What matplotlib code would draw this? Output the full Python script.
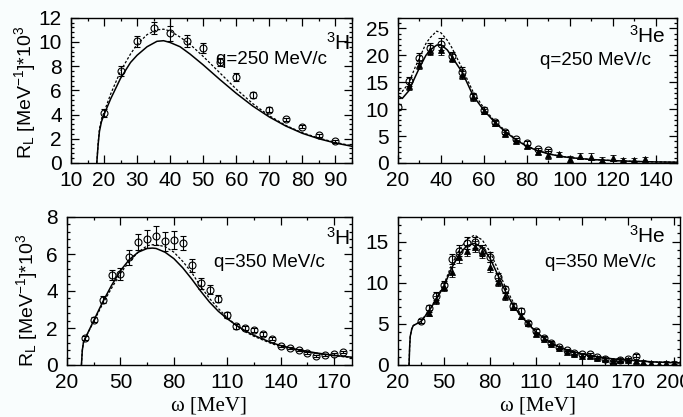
import matplotlib
matplotlib.use("Agg")
import matplotlib.pyplot as plt
from matplotlib.ticker import MultipleLocator

plt.rcParams["font.family"] = ["Liberation Sans", "DejaVu Sans"]
plt.rcParams["mathtext.fontset"] = "custom"
plt.rcParams["mathtext.rm"] = "Liberation Sans"
plt.rcParams["mathtext.it"] = "Liberation Sans"

BG = "#f9fdfd"

# ---- 3H, q=250 MeV/c ----
h250_w = [17.8, 18.2, 18.6, 19.2, 20, 22, 25, 28, 30, 33, 36, 38, 40, 43, 46, 50, 55, 60, 65, 70, 75, 80, 85, 90, 95]
h250_solid = [0.0, 1.5, 2.6, 3.4, 4.0, 5.3, 7.0, 8.3, 8.9, 9.6, 10.05, 10.1, 9.95, 9.6, 9.0, 8.1, 6.9, 5.75, 4.7, 3.8, 3.05, 2.45, 2.0, 1.65, 1.38]
h250_dot = [0.0, 1.6, 2.8, 3.6, 4.2, 5.7, 7.6, 9.0, 9.8, 10.6, 11.0, 11.05, 10.9, 10.4, 9.8, 8.8, 7.45, 6.1, 4.9, 3.9, 3.1, 2.5, 2.05, 1.7, 1.42]
h250_pw = [20, 25, 30, 35, 40, 45, 50, 55, 60, 65, 70, 75, 80, 85, 90]
h250_pv = [4.13, 7.6, 10.05, 11.15, 10.7, 10.05, 9.5, 8.35, 7.1, 5.6, 4.4, 3.6, 3.0, 2.3, 1.8]
h250_pe = [0.3, 0.4, 0.45, 0.5, 0.6, 0.5, 0.45, 0.35, 0.35, 0.25, 0.2, 0.15, 0.15, 0.12, 0.12]

# ---- 3He, q=250 MeV/c ----
he250_w = [20, 22, 25, 28, 30, 33, 35, 38, 40, 43, 45, 50, 55, 60, 65, 70, 75, 80, 85, 90, 95, 100, 110, 120, 130, 140, 150]
he250_solid = [12.5, 12.0, 13.4, 16.0, 17.7, 20.0, 21.0, 21.9, 22.0, 21.0, 19.8, 16.8, 12.5, 9.8, 7.6, 5.8, 4.3, 3.1, 2.3, 1.7, 1.3, 1.0, 0.65, 0.45, 0.3, 0.2, 0.15]
he250_dot = [13.7, 13.3, 14.8, 17.8, 19.5, 22.2, 23.3, 24.5, 24.2, 22.8, 21.5, 17.5, 13.2, 10.2, 7.8, 6.0, 4.4, 3.2, 2.35, 1.75, 1.3, 1.0, 0.65, 0.45, 0.3, 0.2, 0.15]
he250_cw = [20, 25, 30, 35, 40, 45, 50, 55, 60, 65, 70, 75, 80, 85, 90]
he250_cv = [10.4, 15.2, 19.5, 21.3, 22.1, 19.8, 17.0, 12.5, 9.9, 7.6, 5.8, 4.4, 3.7, 2.6, 2.4]
he250_ce = [0.5, 0.8, 0.9, 1.0, 1.1, 0.9, 0.8, 0.6, 0.5, 0.4, 0.35, 0.3, 0.3, 0.25, 0.25]
he250_tw = [25, 30, 35, 40, 45, 50, 55, 60, 65, 70, 75, 80, 85, 90, 95, 100, 105, 110, 115, 120, 125, 130, 135]
he250_tv = [14.3, 18.3, 21.0, 21.0, 19.5, 16.4, 12.2, 9.6, 7.4, 5.4, 4.0, 3.1, 2.1, 1.5, 1.7, 0.7, 1.3, 1.2, 0.6, 0.9, 0.5, 0.6, 0.7]
he250_te = [0.7, 0.8, 0.9, 0.9, 0.8, 0.7, 0.6, 0.5, 0.45, 0.4, 0.35, 0.3, 0.4, 0.8, 0.3, 0.6, 0.6, 0.6, 0.5, 0.6, 0.4, 0.4, 0.4]

# ---- 3H, q=350 MeV/c ----
h350_w = [28.1, 28.6, 29.2, 30, 35, 40, 45, 50, 55, 60, 65, 68, 70, 75, 80, 85, 90, 95, 100, 105, 110, 115, 120, 125, 130, 135, 140, 150, 160, 170, 180]
h350_solid = [0.0, 0.8, 1.2, 1.4, 2.4, 3.4, 4.3, 5.1, 5.7, 6.1, 6.3, 6.32, 6.3, 6.1, 5.75, 5.25, 4.65, 4.0, 3.4, 2.9, 2.5, 2.15, 1.85, 1.6, 1.4, 1.2, 1.05, 0.82, 0.65, 0.52, 0.42]
h350_dot = [0.0, 0.8, 1.2, 1.4, 2.35, 3.3, 4.15, 4.95, 5.6, 6.1, 6.45, 6.5, 6.5, 6.4, 6.1, 5.6, 5.0, 4.25, 3.6, 3.05, 2.55, 2.15, 1.8, 1.55, 1.35, 1.15, 1.0, 0.78, 0.62, 0.5, 0.4]
h350_pw = [30, 35, 40, 45, 50, 55, 60, 65, 70, 75, 80, 85, 90, 95, 100, 105, 110, 115, 120, 125, 130, 135, 140, 145, 150, 155, 160, 165, 170, 175]
h350_pv = [1.47, 2.45, 3.54, 4.86, 4.92, 5.83, 6.64, 6.82, 6.99, 6.68, 6.77, 6.59, 5.39, 4.41, 4.08, 3.58, 2.69, 2.09, 2.0, 1.9, 1.69, 1.43, 1.02, 0.93, 0.8, 0.65, 0.47, 0.54, 0.6, 0.7]
h350_pe = [0.1, 0.15, 0.2, 0.25, 0.3, 0.4, 0.45, 0.5, 0.5, 0.5, 0.5, 0.4, 0.35, 0.3, 0.25, 0.2, 0.15, 0.12, 0.12, 0.1, 0.1, 0.1, 0.07, 0.07, 0.06, 0.06, 0.06, 0.06, 0.06, 0.06]

# ---- 3He, q=350 MeV/c ----
he350_w = [27.2, 27.6, 28, 29, 30, 35, 40, 45, 50, 55, 60, 65, 70, 75, 80, 85, 90, 95, 100, 105, 110, 115, 120, 125, 130, 140, 150, 160, 170, 180, 190, 205]
he350_solid = [0.0, 2.2, 3.5, 4.4, 4.8, 5.3, 6.5, 8.0, 9.6, 11.8, 13.5, 14.5, 14.8, 14.3, 13.0, 11.0, 9.0, 7.3, 6.0, 5.0, 4.0, 3.3, 2.7, 2.2, 1.85, 1.35, 1.0, 0.75, 0.6, 0.45, 0.35, 0.25]
he350_dot = [0.0, 2.2, 3.5, 4.4, 4.8, 5.3, 6.6, 8.1, 9.8, 12.2, 14.0, 15.3, 15.8, 15.2, 13.8, 11.7, 9.5, 7.7, 6.2, 5.1, 4.05, 3.3, 2.7, 2.2, 1.85, 1.35, 1.0, 0.75, 0.6, 0.45, 0.35, 0.25]
he350_cw = [35, 40, 45, 50, 55, 60, 65, 70, 75, 80, 85, 90, 95, 100, 105, 110, 115, 120, 125, 130, 135, 140, 145, 150, 155, 160, 165, 170, 175]
he350_cv = [5.35, 6.9, 8.35, 9.67, 12.9, 13.9, 14.85, 14.9, 13.9, 13.1, 10.7, 9.2, 7.2, 6.6, 5.1, 4.1, 3.3, 2.7, 2.2, 1.8, 1.45, 1.3, 1.3, 0.95, 0.75, 0.35, 0.6, 0.7, 1.15]
he350_ce = [0.3, 0.4, 0.5, 0.5, 0.6, 0.7, 0.7, 0.7, 0.7, 0.6, 0.5, 0.45, 0.4, 0.35, 0.3, 0.25, 0.2, 0.2, 0.15, 0.15, 0.15, 0.15, 0.15, 0.15, 0.15, 0.15, 0.15, 0.15, 0.2]
he350_tw = [40, 45, 50, 55, 60, 65, 70, 75, 80, 85, 90, 95, 100, 105, 110, 115, 120, 125, 130, 135, 140, 145, 150, 155, 160, 165, 170, 175, 180, 185, 190, 195, 200, 205]
he350_tv = [6.3, 7.9, 9.5, 11.3, 13.1, 13.9, 14.4, 13.7, 11.9, 10.1, 8.4, 7.1, 6.0, 5.1, 3.8, 3.2, 2.6, 2.1, 1.6, 1.35, 1.15, 1.05, 0.85, 0.7, 0.45, 0.6, 0.6, 0.45, 0.35, 0.2, 0.15, 0.25, 0.3, 0.3]
he350_te = [0.4, 0.5, 0.5, 0.6, 0.7, 0.7, 0.7, 0.7, 0.6, 0.5, 0.45, 0.4, 0.35, 0.3, 0.25, 0.2, 0.2, 0.2, 0.2, 0.2, 0.2, 0.2, 0.2, 0.2, 0.2, 0.2, 0.2, 0.2, 0.2, 0.2, 0.2, 0.2, 0.2, 0.2]

W, H = 683, 417
fig = plt.figure(figsize=(W / 100, H / 100), dpi=100)
fig.patch.set_facecolor(BG)


def px_axes(x0, y0, x1, y1):
    return fig.add_axes([x0 / W, 1 - y1 / H, (x1 - x0) / W, (y1 - y0) / H])


def style(ax, xlim, ylim, xmaj, ymaj, xoff=0):
    ax.set_facecolor(BG)
    ax.set_xlim(*xlim)
    ax.set_ylim(*ylim)
    ax.xaxis.set_major_locator(MultipleLocator(xmaj, offset=xoff))
    ax.xaxis.set_minor_locator(MultipleLocator(xmaj / 2, offset=xoff))
    ax.yaxis.set_major_locator(MultipleLocator(ymaj))
    ax.yaxis.set_minor_locator(MultipleLocator(ymaj / 5))
    ax.tick_params(which="both", direction="in", top=True, right=True, width=0.9)
    ax.tick_params(which="major", length=5.5, labelsize=15)
    ax.tick_params(axis="x", which="major", pad=6)
    ax.tick_params(axis="y", which="major", pad=6.5)
    ax.tick_params(which="minor", length=2.5)
    for s in ax.spines.values():
        s.set_linewidth(1.0)


def curves(ax, w, solid, dot):
    ax.plot(w, solid, color="black", lw=1.1)
    ax.plot(w, dot, color="black", lw=0.9, ls=(0, (2, 1.5)))


def circles(ax, w, v, e):
    ax.errorbar(w, v, yerr=e, fmt="o", ms=5, mfc="none", mec="black", mew=0.8,
                ecolor="black", elinewidth=0.8, capsize=2.5, capthick=0.8)


def triangles(ax, w, v, e):
    ax.errorbar(w, v, yerr=e, fmt="^", ms=4.5, mfc="black", mec="black", mew=0.6,
                ecolor="black", elinewidth=0.8, capsize=2.5, capthick=0.8)


# panel 1
ax1 = px_axes(71, 17.7, 352, 163)
style(ax1, (10, 95), (0, 12), 10, 2)
curves(ax1, h250_w, h250_solid, h250_dot)
circles(ax1, h250_pw, h250_pv, h250_pe)

# panel 2
ax2 = px_axes(398, 17.7, 677, 163)
style(ax2, (20, 150), (0, 27), 20, 5)
curves(ax2, he250_w, he250_solid, he250_dot)
circles(ax2, he250_cw, he250_cv, he250_ce)
triangles(ax2, he250_tw, he250_tv, he250_te)

# panel 3
ax3 = px_axes(67, 217, 352, 365)
style(ax3, (20, 180), (0, 8), 30, 2, xoff=20)
curves(ax3, h350_w, h350_solid, h350_dot)
circles(ax3, h350_pw, h350_pv, h350_pe)

# panel 4
ax4 = px_axes(398, 217, 680, 365)
style(ax4, (20, 204), (0, 18), 30, 5, xoff=20)
curves(ax4, he350_w, he350_solid, he350_dot)
circles(ax4, he350_cw, he350_cv, he350_ce)
triangles(ax4, he350_tw, he350_tv, he350_te)


def ftext(x, y, s, **kw):
    fig.text(x / W, 1 - y / H, s, **kw)


ylab = r"R$_\mathrm{L}$ [MeV$^{-1}$]*10$^3$"
ftext(25, 92, ylab, rotation=90, ha="center", va="center", fontsize=14)
ftext(27, 300, ylab, rotation=90, ha="center", va="center", fontsize=14)

xlab_kw = dict(ha="center", va="center", fontsize=15, family="Liberation Serif")
ftext(209, 406, r"ω [MeV]", **xlab_kw)
ftext(538, 406, r"ω [MeV]", **xlab_kw)

q_kw = dict(ha="right", va="baseline", fontsize=13.5)
ftext(327, 64, "q=250 MeV/c", **q_kw)
ftext(651, 65, "q=250 MeV/c", **q_kw)
ftext(325, 267, "q=350 MeV/c", **q_kw)
ftext(656, 267, "q=350 MeV/c", **q_kw)

n_kw = dict(ha="right", va="baseline", fontsize=15)
ftext(350, 50, r"$^3$H", **n_kw)
ftext(666, 43, r"$^3$He", **n_kw)
ftext(350, 245, r"$^3$H", **n_kw)
ftext(666, 243, r"$^3$He", **n_kw)

fig.savefig("out.png", dpi=100, facecolor=BG)
